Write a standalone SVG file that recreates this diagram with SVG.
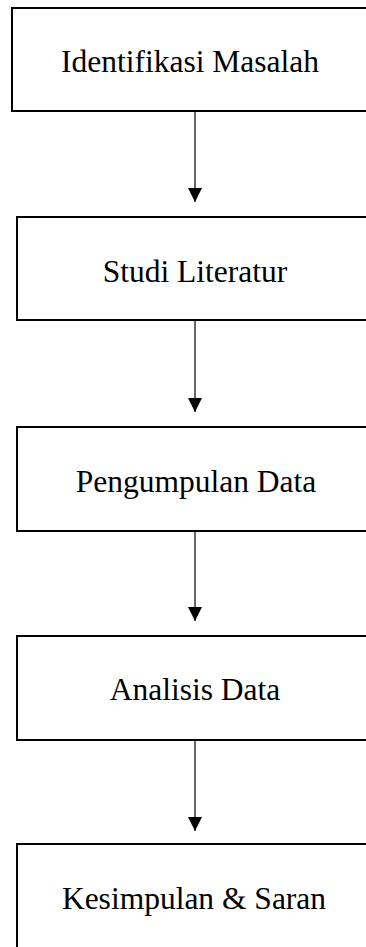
<svg xmlns="http://www.w3.org/2000/svg" width="366" height="947" viewBox="0 0 366 947">
<style>
.box{fill:#fff;stroke:#000;stroke-width:2}
.lbl{font-family:"Liberation Serif","Times New Roman",serif;font-size:31.5px;fill:#000;text-anchor:middle}
.conn{stroke:#000;stroke-width:1.2;fill:none}
</style>
<defs>
<marker id="ah" markerUnits="userSpaceOnUse" markerWidth="16" markerHeight="16" viewBox="0 0 16 16" refX="15" refY="8" orient="auto">
<path d="M1,1 L15,8 L1,15 Z" fill="#000"/>
</marker>
</defs>
<rect width="366" height="947" fill="#fff"/>
<g id="n1"><rect class="box" x="12" y="8" width="370" height="103"/><text class="lbl" x="190" y="72">Identifikasi Masalah</text></g>
<g id="n2"><rect class="box" x="17" y="217" width="370" height="103"/><text class="lbl" x="195" y="281.5">Studi Literatur</text></g>
<g id="n3"><rect class="box" x="17" y="427" width="370" height="104"/><text class="lbl" x="196" y="491.5">Pengumpulan Data</text></g>
<g id="n4"><rect class="box" x="17" y="636" width="370" height="104"/><text class="lbl" x="195" y="700">Analisis Data</text></g>
<g id="n5"><rect class="box" x="17" y="844" width="370" height="106"/><text class="lbl" x="194" y="909">Kesimpulan &amp; Saran</text></g>
<g id="connectors">
<path class="conn" d="M195,112 L195,202" marker-end="url(#ah)"/>
<path class="conn" d="M195,321 L195,412" marker-end="url(#ah)"/>
<path class="conn" d="M195,532 L195,621" marker-end="url(#ah)"/>
<path class="conn" d="M195,741 L195,831" marker-end="url(#ah)"/>
</g>
</svg>
